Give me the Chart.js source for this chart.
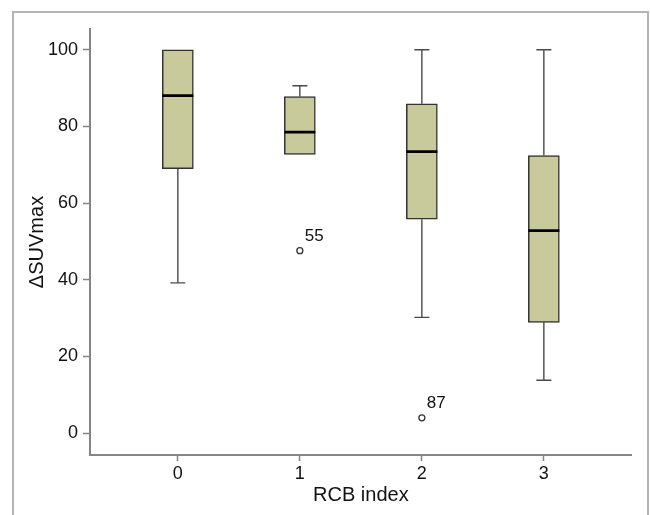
<!DOCTYPE html>
<html><head><meta charset="utf-8">
<script src="https://cdn.jsdelivr.net/npm/chart.js@4.4.1/dist/chart.umd.min.js"></script>
<style>
html,body{margin:0;padding:0;background:#fff;}
#wrap{position:relative;width:650px;height:515px;overflow:hidden;}
#frame{position:absolute;left:12px;top:11px;width:637px;height:530px;border:2px solid #b4b4b4;box-sizing:border-box;}
canvas{position:absolute;left:0;top:0;}
</style></head><body>
<div id="wrap"><div id="frame"></div><canvas id="c" width="650" height="515"></canvas></div>
<script>
'use strict';

// RCB index groups and box-plot statistics
const categories  = [0, 1, 2, 3];
const whiskerLow  = [39.2, null, 30.2, 13.8];
const q1          = [69.0, 72.7, 55.8, 28.9];
const median      = [88.0, 78.5, 73.4, 52.8];
const q3          = [100, 87.8, 85.9, 72.4];
const whiskerHigh = [null, 90.6, 100, 100];

const outlierX      = [1, 2];
const outlierY      = [47.6, 4.0];
const outlierLabels = ['55', '87'];

const yTicks = [0, 20, 40, 60, 80, 100];
const xTicks = [0, 1, 2, 3];

const INK = '#111', AXIS = '#858585', EDGE = '#333', WHISK = '#4a4a4a';
const FONT = "'Liberation Sans', Arial, sans-serif";

// whisker segments: two points per segment, null to break the line
const whiskerPts = [];
categories.forEach((c, i) => {
  if (whiskerLow[i] != null){ whiskerPts.push({ x: c, y: whiskerLow[i] }, { x: c, y: q1[i] }, { x: c, y: null }); }
  if (whiskerHigh[i] != null){ whiskerPts.push({ x: c, y: q3[i] }, { x: c, y: whiskerHigh[i] }, { x: c, y: null }); }
});
const capPts = [];
categories.forEach((c, i) => {
  if (whiskerLow[i] != null) capPts.push({ x: c, y: whiskerLow[i] });
  if (whiskerHigh[i] != null) capPts.push({ x: c, y: whiskerHigh[i] });
});

const outlierText = {
  id: 'outlierText',
  afterDatasetsDraw(chart){
    const meta = chart.getDatasetMeta(4);
    const ctx = chart.ctx;
    ctx.save();
    ctx.font = '17px ' + FONT; ctx.fillStyle = INK;
    ctx.textAlign = 'left'; ctx.textBaseline = 'middle';
    meta.data.forEach((pt, i) => ctx.fillText(outlierLabels[i], pt.x + 5, pt.y - 14));
    ctx.restore();
  }
};

new Chart(document.getElementById('c'), {
  type: 'bar',
  data: { datasets: [
    { type: 'line', data: whiskerPts, borderColor: WHISK, borderWidth: 1.4, pointRadius: 0, spanGaps: false, order: 4 },
    { type: 'bar', data: categories.map((c, i) => ({ x: c, y: [q1[i], q3[i]] })), backgroundColor: '#c9ca9b',
      borderColor: EDGE, borderWidth: 1.5, borderSkipped: false, barThickness: 31, order: 3 },
    { type: 'scatter', data: capPts, pointStyle: 'line', radius: 7.5, borderColor: WHISK, borderWidth: 1.4, order: 2 },
    { type: 'scatter', data: categories.map((c, i) => ({ x: c, y: median[i] })), pointStyle: 'line', radius: 15.5,
      borderColor: '#000', borderWidth: 2.8, order: 1 },
    { type: 'scatter', data: outlierX.map((x, i) => ({ x, y: outlierY[i] })), pointStyle: 'circle', radius: 3,
      backgroundColor: '#fff', borderColor: EDGE, borderWidth: 1.3, order: 0 }
  ] },
  options: {
    responsive: false, animation: false, devicePixelRatio: 1,
    layout: { padding: { left: 0, top: 29, right: 16, bottom: 0 } },
    plugins: { legend: { display: false }, tooltip: { enabled: false } },
    scales: {
      x: {
        type: 'linear', min: -0.72, max: 3.72, offset: false,
        afterBuildTicks: s => { s.ticks = xTicks.map(v => ({ value: v })); },
        afterFit: s => { s.height = 60; },
        grid: { display: true, offset: false, drawOnChartArea: false, drawTicks: true, tickLength: 6, tickColor: AXIS, tickWidth: 1.5 },
        border: { display: true, color: AXIS, width: 2 },
        ticks: { color: INK, font: { family: FONT, size: 18 }, padding: 2, callback: v => String(v) },
        title: { display: true, text: 'RCB index', color: INK, font: { family: FONT, size: 20 }, padding: { top: 0, bottom: 8 } }
      },
      y: {
        type: 'linear', min: -5.7, max: 105.4,
        afterBuildTicks: s => { s.ticks = yTicks.map(v => ({ value: v })); },
        afterFit: s => { s.width = 90; },
        grid: { display: true, drawOnChartArea: false, drawTicks: true, tickLength: 7, tickColor: AXIS, tickWidth: 1.5 },
        border: { display: true, color: AXIS, width: 2 },
        ticks: { color: INK, font: { family: FONT, size: 18 }, padding: 5, callback: v => String(v) },
        title: { display: true, text: 'ΔSUVmax', color: INK, font: { family: FONT, size: 20 }, padding: { top: 25, bottom: 0 } }
      }
    }
  },
  plugins: [outlierText]
});
</script>
</body></html>
